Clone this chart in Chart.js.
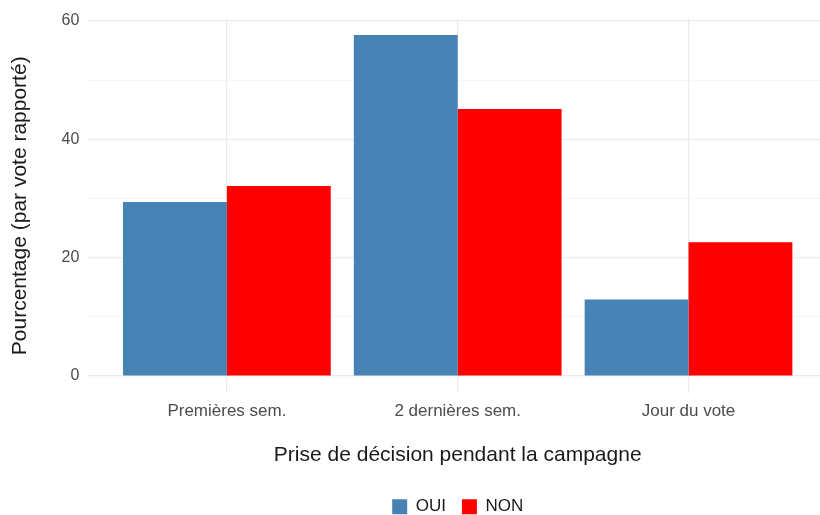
<!DOCTYPE html>
<html>
<head>
<meta charset="utf-8">
<script src="https://cdn.jsdelivr.net/npm/chart.js@4.4.1/dist/chart.umd.min.js"></script>
<style>
  html, body { margin: 0; padding: 0; background: #fff; overflow: hidden; }
  #wrap { width: 820px; height: 515px; overflow: hidden; position: relative; }
  canvas { display: block; }
</style>
</head>
<body>
<div id="wrap"><canvas id="c" width="830" height="515" style="width:830px;height:515px"></canvas></div>
<script>
// ---- data ----
const categories = ["Premières sem.", "2 dernières sem.", "Jour du vote"];
const seriesNames = ["OUI", "NON"];
const ouiValues = [29.4, 57.6, 12.9];
const nonValues = [32.1, 45.1, 22.6];
const yTickValues = [0, 10, 20, 30, 40, 50, 60];
const yTickLabels = ["0", "", "20", "", "40", "", "60"];

const colors = ["#4682B4", "#FF0000"];

Chart.defaults.font.family = "'Liberation Sans', Arial, Helvetica, sans-serif";

function toPoints(vals) { return vals.map((v, i) => ({ x: i + 1, y: v })); }

const MAJOR = "#ebebeb", MINOR = "#f4f4f4";

new Chart(document.getElementById("c"), {
  type: "bar",
  data: {
    datasets: [
      { label: seriesNames[0], data: toPoints(ouiValues), backgroundColor: colors[0], borderColor: colors[0], borderWidth: 0 },
      { label: seriesNames[1], data: toPoints(nonValues), backgroundColor: colors[1], borderColor: colors[1], borderWidth: 0 }
    ]
  },
  options: {
    responsive: false,
    animation: false,
    devicePixelRatio: 1,
    categoryPercentage: 0.9,
    barPercentage: 1.0,
    layout: { padding: { top: 13.0, left: 0, right: 3, bottom: -10.3 } },
    plugins: {
      tooltip: { enabled: false },
      legend: {
        position: "bottom",
        fullSize: false,
        align: "center",
        labels: {
          boxWidth: 15, boxHeight: 15, padding: 16,
          color: "#1a1a1a",
          font: { size: 17 }
        }
      }
    },
    scales: {
      x: {
        type: "linear",
        min: 0.4, max: 3.6,
        offset: false,
        border: { display: false },
        grid: { color: MAJOR, lineWidth: 1.2, drawTicks: false, offset: false },
        afterBuildTicks: (s) => { s.ticks = categories.map((c, i) => ({ value: i + 1 })); },
        afterFit: (s) => { s.height = 89.3; },
        ticks: {
          color: "#4d4d4d", font: { size: 17 }, padding: 8, maxRotation: 0, autoSkip: false,
          callback: (v) => categories[Math.round(v) - 1] || ""
        },
        title: {
          display: true, text: "Prise de décision pendant la campagne",
          color: "#1a1a1a", font: { size: 21 }, padding: { top: 0, bottom: 14.9 }
        }
      },
      y: {
        type: "linear",
        min: -2.875, max: 60.375,
        border: { display: false },
        grid: {
          drawTicks: false,
          color: (ctx) => (ctx.tick && ctx.tick.value % 20 === 0 ? MAJOR : MINOR),
          lineWidth: (ctx) => (ctx.tick && ctx.tick.value % 20 === 0 ? 1.2 : 0.8)
        },
        afterBuildTicks: (s) => { s.ticks = yTickValues.map(v => ({ value: v })); },
        afterFit: (s) => { s.width = 88.4; },
        ticks: {
          color: "#4d4d4d", font: { size: 16 }, padding: 9, autoSkip: false,
          callback: (v) => { const i = yTickValues.indexOf(v); return i >= 0 ? yTickLabels[i] : ""; }
        },
        title: {
          display: true, text: "Pourcentage (par vote rapporté)",
          color: "#1a1a1a", font: { size: 21 }, padding: { top: 7.4, bottom: 0 }
        }
      }
    }
  }
});
</script>
</body>
</html>
